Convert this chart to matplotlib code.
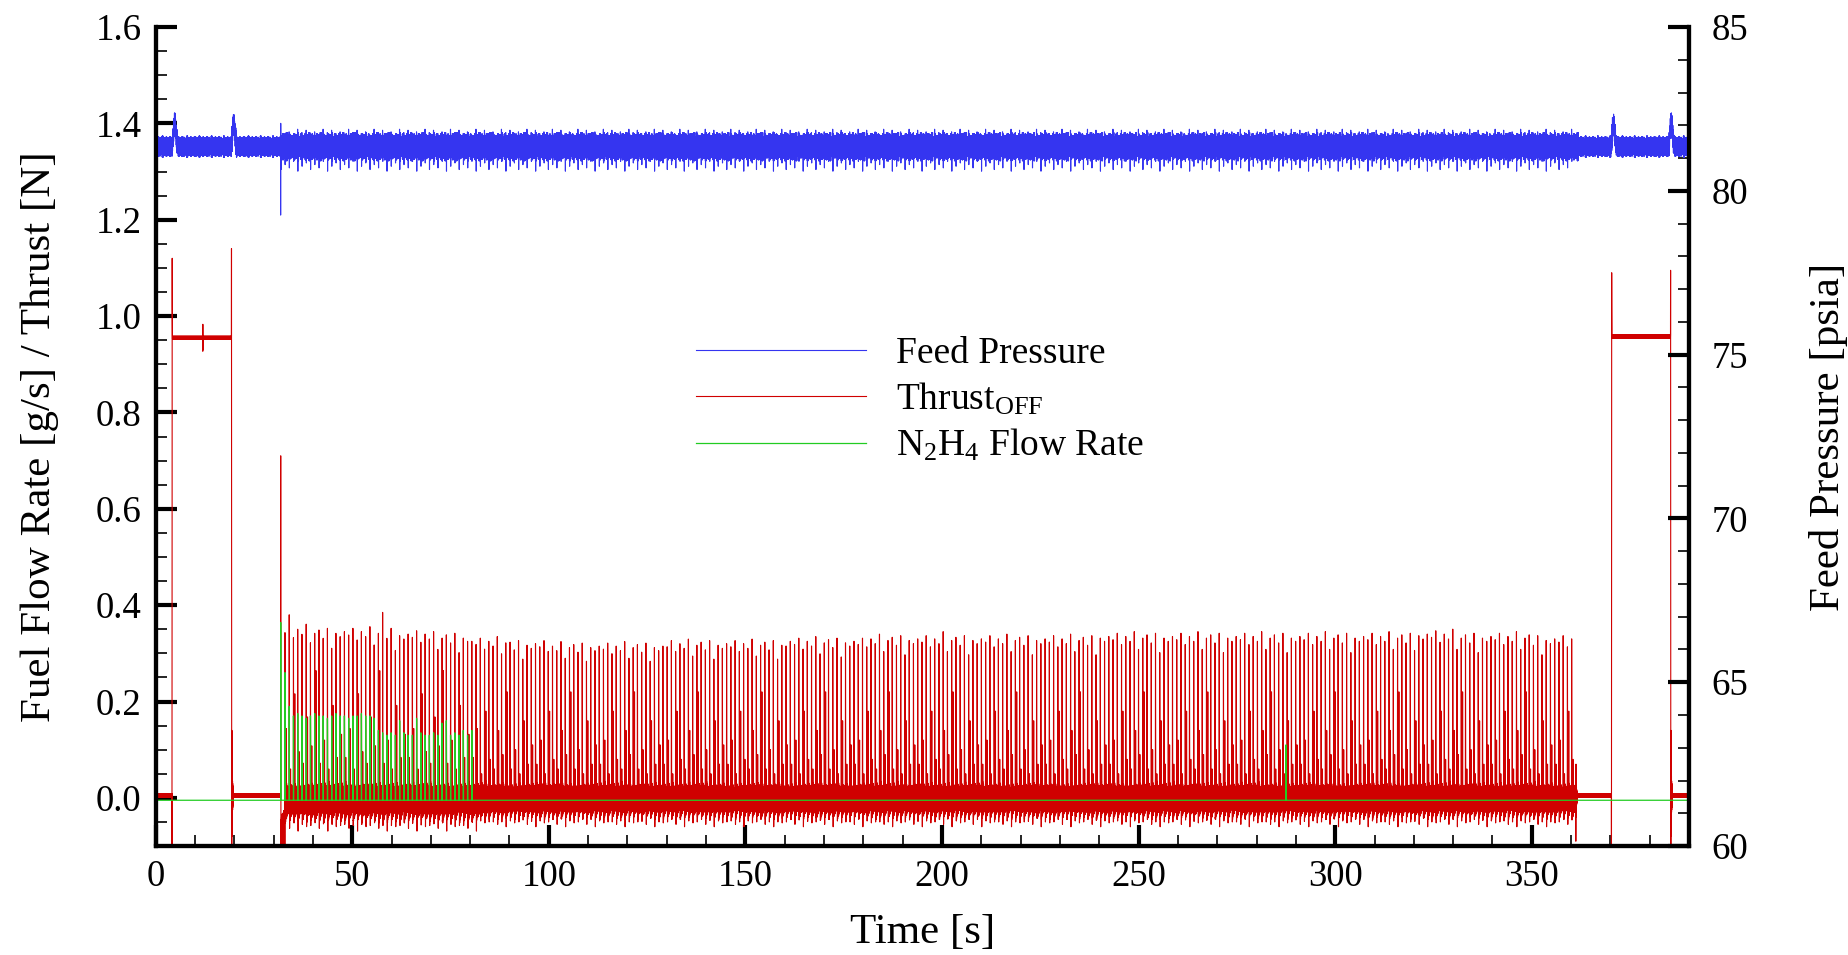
import numpy as np
import matplotlib.pyplot as plt
from matplotlib.ticker import MultipleLocator

plt.rcParams['font.family'] = ['Liberation Serif', 'DejaVu Serif']
plt.rcParams['mathtext.fontset'] = 'custom'
plt.rcParams['mathtext.rm'] = 'Liberation Serif'
plt.rcParams['mathtext.it'] = 'Liberation Serif:italic'

# ==========================================
# VALUES
# ==========================================
dt = 0.02          # sample step [s]
t_end = 390.0

# continuous firings
firing_on = [4.2, 370.3]
firing_off = [19.3, 385.3]
firing_level = [0.955, 0.958]
firing_overshoot = [1.12, 1.09]
shutdown_spike = [1.14, 1.095]
firing_dip_t = 12.0
firing_dip = [0.927, 0.983, 0.93]

# pulse train
train_start = 31.8
train_stop = 360.7
train_period = 1.08
first_pulse_peak = 0.71
# main thrust peak, one value per 10 s block (blocks start at 30, 40, ... 350 s)
peak_block_start = [30, 40, 50, 60, 70, 80, 90, 100, 110, 120, 130, 140, 150, 160, 170, 180, 190,
                    200, 210, 220, 230, 240, 250, 260, 270, 280, 290, 300, 310, 320, 330, 340, 350]
peak_block_value = [0.35, 0.345, 0.345, 0.34, 0.335, 0.325, 0.32, 0.315, 0.315, 0.315, 0.32, 0.32,
                    0.32, 0.325, 0.325, 0.33, 0.33, 0.33, 0.33, 0.33, 0.33, 0.335, 0.335, 0.335,
                    0.335, 0.335, 0.335, 0.335, 0.335, 0.34, 0.335, 0.335, 0.33]
peak_scatter = [1.0, 0.98, 1.02, 0.95, 1.0, 0.97, 1.03, 0.92, 0.99, 1.01, 0.96, 1.02, 0.9, 0.99, 0.97]
peak_outlier_t = [33.9, 58.1, 200.5]
peak_outlier = [0.38, 0.385, 0.345]
second_peak = [0.07, 0.12, 0.05, 0.18, 0.08, 0.06, 0.14, 0.09, 0.22, 0.06, 0.1, 0.05, 0.16, 0.07, 0.11]
ring_hi = [0.045, 0.04, 0.035, 0.032, 0.03, 0.028, 0.026, 0.025, 0.024, 0.022]
ring_lo = [0.05, 0.045, 0.04, 0.037, 0.034, 0.032, 0.03, 0.028, 0.027, 0.026]
ring_jag = [1.0, 0.7, 0.9, 0.55, 1.0, 0.8, 0.6, 0.95, 0.75, 0.5, 0.85, 1.0, 0.65]
ring_lo_spike = [0.05, 0.045, 0.055, 0.04, 0.06, 0.048, 0.052]
shut_ring = [0.7, 0.2, -0.18, -0.12, 0.14, -0.08, 0.09, -0.06, 0.06, -0.04, 0.045, -0.03,
             0.035, -0.025, 0.03, -0.02, 0.025, -0.015, 0.02, -0.012, 0.018, -0.01, 0.015]
thrust_idle = 0.005

# N2H4 flow, one value per pulse from 31.8 s
green_peaks = [0.364, 0.26, 0.19, 0.17, 0.175, 0.17, 0.165, 0.17, 0.175, 0.17, 0.17, 0.165,
               0.17, 0.175, 0.17, 0.17, 0.165, 0.17, 0.17, 0.175, 0.17, 0.17, 0.165, 0.14,
               0.135, 0.13, 0.135, 0.13, 0.16, 0.135, 0.13, 0.13, 0.165, 0.135, 0.13, 0.13,
               0.135, 0.13, 0.155, 0.16, 0.13, 0.135, 0.13, 0.14, 0.13, 0.14]
green_base = -0.005
green_spike_t = 287.5
green_spike = 0.11

# feed pressure [psia]
p_mean = 81.35
p_band_quiet = [0.26, 0.18, 0.3, 0.22, 0.28, 0.15, 0.24, 0.32, 0.2, 0.27, 0.17, 0.29, 0.23]
p_band_pulsing = [0.33, 0.26, 0.4, 0.29, 0.36, 0.22, 0.43, 0.3, 0.25, 0.38, 0.28, 0.34]
p_pulse_hi = [81.85, 81.75, 81.8, 81.7, 81.88, 81.78]
p_pulse_lo = [80.65, 80.8, 80.7, 80.9, 80.6, 80.75, 80.85]
p_bump_t = [4.3, 19.3, 370.2, 384.9]
p_bump_shape = [0.15, 0.4, 0.62, 0.7, 0.62, 0.45, 0.25, 0.08]
p_ignition = [79.26, 82.06]

# ==========================================
# BUILD THE TRACES
# ==========================================
t = np.arange(0, t_end, dt)
n = len(t)
alt = np.where(np.arange(n) % 2 == 0, 1.0, -1.0)


def idx(x):
    return int(round(x / dt))


thrust = thrust_idle + 0.004 * alt
flow = np.full(n, green_base)
press = p_mean + alt * np.resize(np.repeat(p_band_quiet, 12), n)

# steady firings
for on, off, lev, ov, sd in zip(firing_on, firing_off, firing_level, firing_overshoot, shutdown_spike):
    i0, i1 = idx(on), idx(off)
    thrust[i0:i1] = lev + 0.003 * alt[i0:i1]
    thrust[i0 - 2:i0 + 4] = [-0.15, 0.09, 0.6, ov, 1.02, 0.97]
    thrust[i1] = sd
    thrust[i1 + 1:i1 + 1 + len(shut_ring)] = shut_ring
i = idx(firing_dip_t)
thrust[i:i + len(firing_dip)] = firing_dip

# pulse train
n_pulses = int((train_stop - train_start) / train_period) + 1
pulse_t = train_start + train_period * np.arange(n_pulses)
L = int(round(train_period / dt))
i_train0, i_train1 = idx(train_start), idx(train_stop) + L
press[i_train0:i_train1] = p_mean + alt[i_train0:i_train1] * np.resize(
    np.repeat(p_band_pulsing, 12), i_train1 - i_train0)

for j, tp in enumerate(pulse_t):
    i0 = idx(tp)
    blk = min(np.searchsorted(peak_block_start, tp, side='right') - 1, len(peak_block_value) - 1)
    pk = peak_block_value[blk] * peak_scatter[j % len(peak_scatter)]
    for ot, ov in zip(peak_outlier_t, peak_outlier):
        if abs(ot - tp) < train_period / 2:
            pk = ov
    if j == 0:
        pk = first_pulse_peak
    early = 1.15 if tp < 82 else 1.0
    for m in range(4, L):
        seg = m * len(ring_hi) // L
        jag = ring_jag[(m // 6 + j) % len(ring_jag)]
        if alt[i0 + m] > 0:
            thrust[i0 + m] = ring_hi[seg] * jag
        else:
            thrust[i0 + m] = -ring_lo[seg] * early * (0.6 + 0.4 * jag)
    thrust[i0 + 6] = -ring_lo_spike[j % len(ring_lo_spike)] * early
    thrust[i0:i0 + 4] = [0.5 * pk, pk, 0.55 * pk, 0.1]
    thrust[i0 + 18] = second_peak[j % len(second_peak)] * (1.2 if tp < 82 else 1.0)
    if j == 0:
        thrust[i0 + 4:i0 + L:2] = -0.2
    press[i0] = p_pulse_hi[j % len(p_pulse_hi)]
    press[i0 + 3] = p_pulse_lo[j % len(p_pulse_lo)]
    if j < len(green_peaks):
        flow[i0 + 1:i0 + 4] = [green_peaks[j], 0.8 * green_peaks[j], 0.02]

# ringing after the last pulse
i_end = idx(pulse_t[-1]) + L
thrust[i_end:i_end + len(shut_ring) - 2] = np.array(shut_ring[2:]) * 0.5

flow[idx(green_spike_t)] = green_spike
i = idx(train_start)
press[i:i + 2] = p_ignition
for bt in p_bump_t:
    i = idx(bt)
    press[i:i + 8 * len(p_bump_shape)] += np.repeat(p_bump_shape, 8)

# ==========================================
# PLOT
# ==========================================
fig = plt.figure(figsize=(18.48, 9.55), dpi=100)
ax = fig.add_axes([0.0842, 0.1141, 0.8298, 0.8576])
ax2 = ax.twinx()

l_red, = ax.plot(t, thrust, color='#d00000', lw=0.8, label=r'Thrust$_{\mathrm{OFF}}$')
l_green, = ax.plot(t, flow, color='#22cc22', lw=0.9, label=r'N$_2$H$_4$ Flow Rate')
l_blue, = ax2.plot(t, press, color='#3535f0', lw=0.8, label='Feed Pressure')

ax.set_xlim(0, 390)
ax.set_ylim(-0.1, 1.6)
ax2.set_ylim(60, 85)

ax.xaxis.set_major_locator(MultipleLocator(50))
ax.xaxis.set_minor_locator(MultipleLocator(10))
ax.yaxis.set_major_locator(MultipleLocator(0.2))
ax.yaxis.set_minor_locator(MultipleLocator(0.05))
ax2.yaxis.set_major_locator(MultipleLocator(5))
ax2.yaxis.set_minor_locator(MultipleLocator(1))
ax.yaxis.set_major_formatter(plt.FormatStrFormatter('%.1f'))

for a in (ax, ax2):
    a.spines['top'].set_visible(False)
    for s in a.spines.values():
        s.set_linewidth(3)
    a.tick_params(which='major', direction='in', length=15, width=3, labelsize=26.5, pad=10)
    a.tick_params(which='minor', direction='in', length=8, width=1.2)
ax.tick_params(axis='y', which='both', left=True, right=False)
ax2.tick_params(axis='y', which='both', left=False, right=True, pad=16)
ax.tick_params(axis='x', which='both', top=False)

ax.set_xlabel('Time [s]', fontsize=31, labelpad=14)
ax.set_ylabel('Fuel Flow Rate [g/s] / Thrust [N]', fontsize=31, labelpad=26)
ax2.set_ylabel('Feed Pressure [psia]', fontsize=31, labelpad=44)

fig.legend(handles=[l_blue, l_red, l_green], loc='upper left', bbox_to_anchor=(0.3766, 0.648),
           frameon=False, fontsize=27, handlelength=4.53, handletextpad=0.8, labelspacing=0.27,
           borderpad=0, borderaxespad=0)

fig.savefig('out.png', dpi=100)
